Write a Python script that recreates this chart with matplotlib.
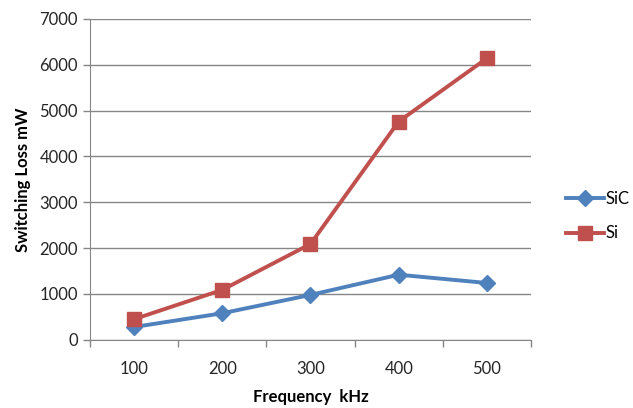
import matplotlib
matplotlib.use("Agg")
import matplotlib.pyplot as plt
import numpy as np

# switching loss vs frequency for SiC and Si devices
freq_khz = ["100", "200", "300", "400", "500"]
sic_loss = [280, 580, 980, 1420, 1240]
si_loss = [450, 1090, 2090, 4760, 6140]

plt.rcParams['font.family'] = ['Lato', 'DejaVu Sans']

fig = plt.figure(figsize=(6.33, 4.08), dpi=100)
ax = fig.add_axes([0.142, 0.167, 0.697, 0.787])

x = np.arange(1, len(freq_khz) + 1)
ax.plot(x, sic_loss, color="#4F81BD", lw=2.8, marker="D", ms=8, label="SiC", zorder=3)
ax.plot(x, si_loss, color="#C0504D", lw=2.8, marker="s", ms=10, label="Si", zorder=3)

ax.set_xlim(0.5, len(freq_khz) + 0.5)
ax.set_ylim(0, 7000)
ax.set_yticks(range(0, 7001, 1000))
ax.set_xticks(np.arange(0.5, len(freq_khz) + 1, 1))
ax.set_xticklabels([])
ax.set_xticks(x, minor=True)
ax.set_xticklabels(freq_khz, minor=True)
ax.tick_params(axis="x", which="major", length=5, color="#868686", width=1)
ax.tick_params(axis="x", which="minor", length=0, pad=15, labelsize=12, labelcolor="#262626")
ax.tick_params(axis="y", length=5, color="#868686", width=1, labelsize=12, labelcolor="#262626")

ax.grid(axis="y", color="#868686", lw=1)
ax.set_axisbelow(True)
for s in ["top", "right"]:
    ax.spines[s].set_visible(False)
for s in ["left", "bottom"]:
    ax.spines[s].set_color("#868686")

ax.set_xlabel("Frequency  kHz", fontsize=12, fontweight="bold", labelpad=9)
ax.set_ylabel("Switching Loss mW", fontsize=12, fontweight="bold", labelpad=6)

ax.legend(loc="center left", bbox_to_anchor=(1.045, 0.385), frameon=False, fontsize=12,
          handlelength=2.3, handletextpad=0.05, labelspacing=1.1)

fig.savefig("out.png", dpi=100)
